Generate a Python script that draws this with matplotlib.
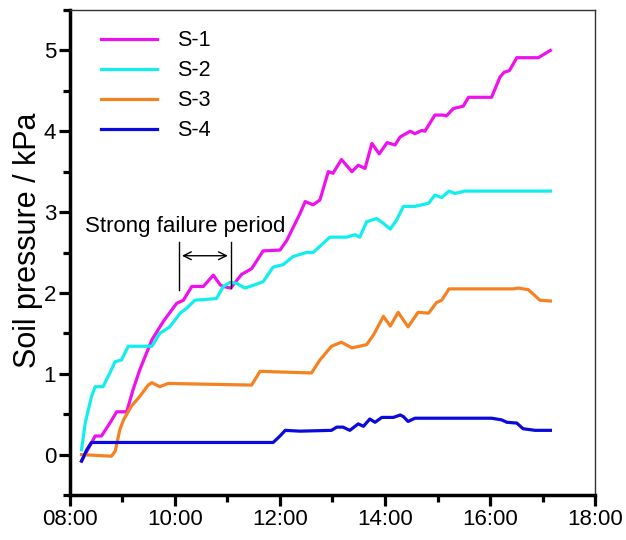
import matplotlib
matplotlib.use("Agg")
import matplotlib.pyplot as plt
from matplotlib.ticker import MultipleLocator, FuncFormatter

plt.rcParams['font.family'] = ['Liberation Sans', 'DejaVu Sans']

# time in decimal hours
s1_t = [8.22, 8.32, 8.48, 8.60, 8.76, 8.89, 9.08, 9.20, 9.33, 9.56, 9.78, 10.03, 10.16, 10.32, 10.54,
        10.73, 10.86, 10.92, 11.06, 11.27, 11.46, 11.68, 12.00, 12.13, 12.38, 12.48, 12.63, 12.76,
        12.92, 13.01, 13.17, 13.37, 13.49, 13.62, 13.75, 13.89, 14.04, 14.19, 14.29, 14.48, 14.57,
        14.70, 14.76, 14.95, 15.11, 15.17, 15.30, 15.49, 15.59, 16.03, 16.19, 16.27, 16.37, 16.51,
        16.92, 17.15]
s1_v = [-0.08, 0.04, 0.23, 0.23, 0.39, 0.53, 0.53, 0.80, 1.05, 1.42, 1.65, 1.87, 1.91, 2.08, 2.08,
        2.22, 2.10, 2.08, 2.06, 2.23, 2.30, 2.52, 2.53, 2.65, 2.98, 3.13, 3.09, 3.15,
        3.50, 3.48, 3.65, 3.50, 3.58, 3.54, 3.85, 3.72, 3.86, 3.83, 3.93, 4.00, 3.97,
        4.01, 4.00, 4.20, 4.20, 4.19, 4.28, 4.31, 4.42, 4.42, 4.67, 4.73, 4.75, 4.91,
        4.91, 5.00]

s2_t = [8.22, 8.29, 8.41, 8.48, 8.63, 8.76, 8.86, 8.98, 9.11, 9.56, 9.71, 9.90, 10.10, 10.22, 10.38,
        10.79, 10.92, 11.05, 11.17, 11.33, 11.52, 11.68, 11.87, 12.06, 12.25, 12.50, 12.63, 12.95,
        13.27, 13.43, 13.52, 13.65, 13.84, 13.97, 14.10, 14.22, 14.35, 14.57, 14.83, 14.95, 15.08,
        15.22, 15.33, 15.52, 17.15]
s2_v = [0.06, 0.39, 0.72, 0.84, 0.84, 1.01, 1.15, 1.17, 1.34, 1.34, 1.50, 1.58, 1.75, 1.81, 1.91,
        1.93, 2.08, 2.13, 2.12, 2.06, 2.10, 2.14, 2.32, 2.35, 2.45, 2.50, 2.50, 2.69,
        2.69, 2.72, 2.69, 2.88, 2.92, 2.86, 2.79, 2.90, 3.07, 3.07, 3.11, 3.21, 3.18,
        3.26, 3.23, 3.26, 3.26]

s3_t = [8.22, 8.79, 8.86, 8.95, 9.02, 9.17, 9.33, 9.49, 9.56, 9.71, 9.87, 11.46, 11.62, 12.60, 12.76,
        12.98, 13.17, 13.37, 13.65, 13.78, 13.97, 14.10, 14.25, 14.44, 14.63, 14.83, 14.98, 15.08,
        15.22, 16.44, 16.54, 16.73, 16.95, 17.15]
s3_v = [0.00, -0.02, 0.04, 0.31, 0.43, 0.60, 0.72, 0.86, 0.89, 0.84, 0.88, 0.86, 1.03, 1.01, 1.17,
        1.34, 1.39, 1.32, 1.36, 1.48, 1.71, 1.59, 1.76, 1.58, 1.76, 1.75, 1.88, 1.91,
        2.05, 2.05, 2.06, 2.04, 1.91, 1.90]

s4_t = [8.22, 8.32, 8.41, 11.87, 12.00, 12.10, 12.38, 12.98, 13.08, 13.20, 13.33, 13.49, 13.59, 13.71,
        13.81, 13.94, 14.16, 14.29, 14.35, 14.44, 14.57, 16.03, 16.22, 16.32, 16.51, 16.63, 16.86, 17.15]
s4_v = [-0.08, 0.06, 0.15, 0.15, 0.23, 0.30, 0.29, 0.30, 0.34, 0.34, 0.30, 0.38, 0.35, 0.44,
        0.40, 0.46, 0.46, 0.49, 0.47, 0.41, 0.45, 0.45, 0.43, 0.40, 0.39, 0.32, 0.30, 0.30]

labels = ['S-1', 'S-2', 'S-3', 'S-4']
colors = ['#EE11EE', '#11EEEE', '#F58220', '#0A0ADC']

fig = plt.figure(figsize=(6.26, 5.4), dpi=100)
ax = fig.add_axes([0.1118, 0.0833, 0.8387, 0.8982])

for t, v, lab, c in zip([s1_t, s2_t, s3_t, s4_t], [s1_v, s2_v, s3_v, s4_v], labels, colors):
    ax.plot(t, v, color=c, lw=2.3, label=lab, solid_joinstyle='round')

ax.set_xlim(8, 18)
ax.set_ylim(-0.5, 5.5)
ax.xaxis.set_major_locator(MultipleLocator(2))
ax.xaxis.set_minor_locator(MultipleLocator(1))
ax.yaxis.set_major_locator(MultipleLocator(1))
ax.yaxis.set_minor_locator(MultipleLocator(0.5))
ax.xaxis.set_major_formatter(FuncFormatter(lambda x, p: f"{int(round(x)):02d}:00"))

ax.tick_params(which='major', direction='out', length=8, width=2.3, labelsize=16, pad=2)
ax.tick_params(which='minor', direction='out', length=5, width=2.3)
ax.tick_params(top=False, right=False, which='both')
for s in ['left', 'bottom']:
    ax.spines[s].set_linewidth(2.5)
for s in ['top', 'right']:
    ax.spines[s].set_linewidth(1.0)
    ax.spines[s].set_color('#333333')

ax.set_ylabel('Soil pressure / kPa', fontsize=22)
ax.yaxis.set_label_coords(-0.052, 0.525)

leg = ax.legend(loc='upper left', frameon=False, fontsize=15.5, handlelength=2.6,
                handletextpad=0.9, labelspacing=0.42, borderaxespad=0.2,
                bbox_to_anchor=(0.035, 0.985))

# annotation
ax.text(10.2, 2.75, 'Strong failure period', fontsize=16, ha='center', va='baseline')
ax.plot([10.08, 10.08], [2.04, 2.63], color='black', lw=1)
ax.plot([11.06, 11.06], [2.06, 2.63], color='black', lw=1)
ax.annotate('', xy=(10.08, 2.46), xytext=(11.06, 2.46),
            arrowprops=dict(arrowstyle='<->', color='black', lw=1, mutation_scale=14))

fig.savefig('out.png', dpi=100)
